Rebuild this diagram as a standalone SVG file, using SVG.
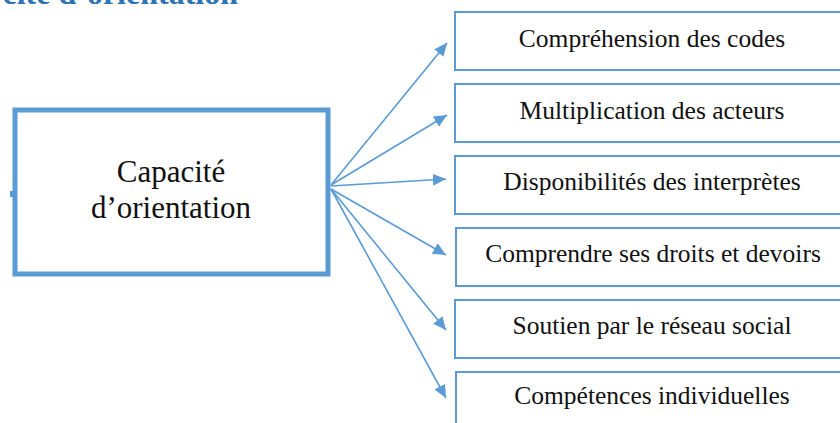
<svg xmlns="http://www.w3.org/2000/svg" width="840" height="423" viewBox="0 0 840 423">
  <style>
    .main { fill: #ffffff; stroke: #5B9BD5; stroke-width: 5; }
    .box { fill: #ffffff; stroke: #5B9BD5; stroke-width: 2; }
    .lbl { font-family: "Liberation Serif", "Times New Roman", serif; font-size: 25.5px; fill: #111111; text-anchor: middle; }
    .mainlbl { font-family: "Liberation Serif", "Times New Roman", serif; font-size: 31px; fill: #111111; text-anchor: middle; }
    .head { font-family: "Liberation Serif", "Times New Roman", serif; font-size: 32px; font-weight: bold; fill: #2E74B5; text-anchor: end; }
    .conn { stroke: #5B9BD5; stroke-width: 1.6; fill: none; marker-end: url(#arrow); }
  </style>
  <defs>
    <marker id="arrow" markerUnits="userSpaceOnUse" markerWidth="14" markerHeight="12" refX="13" refY="6" orient="auto">
      <path d="M0,0 L13,6 L0,12 Z" fill="#5B9BD5"/>
    </marker>
  </defs>

  <text class="head" x="238" y="4">cité d’orientation</text>

  <g id="connectors">
    <line class="conn" x1="331" y1="185" x2="447" y2="43"/>
    <line class="conn" x1="331" y1="185" x2="447" y2="115"/>
    <line class="conn" x1="331" y1="186" x2="446" y2="179"/>
    <line class="conn" x1="331" y1="189" x2="446" y2="255"/>
    <line class="conn" x1="331" y1="189" x2="446" y2="330"/>
    <line class="conn" x1="331" y1="189" x2="446" y2="398"/>
  </g>

  <g id="node-main">
    <rect class="main" x="15" y="110" width="313" height="164"/>
    <rect x="10" y="191" width="3" height="6" fill="#5B9BD5"/>
    <text class="mainlbl" x="171" y="182">Capacité</text>
    <text class="mainlbl" x="171" y="218">d’orientation</text>
  </g>

  <g id="node-1">
    <rect class="box" x="455" y="12" width="400" height="58"/>
    <text class="lbl" x="652" y="47">Compréhension des codes</text>
  </g>
  <g id="node-2">
    <rect class="box" x="455" y="84" width="400" height="58"/>
    <text class="lbl" x="652" y="119">Multiplication des acteurs</text>
  </g>
  <g id="node-3">
    <rect class="box" x="455" y="156" width="400" height="58"/>
    <text class="lbl" x="652" y="190">Disponibilités des interprètes</text>
  </g>
  <g id="node-4">
    <rect class="box" x="456" y="228" width="400" height="58"/>
    <text class="lbl" x="653" y="262">Comprendre ses droits et devoirs</text>
  </g>
  <g id="node-5">
    <rect class="box" x="455" y="300" width="400" height="58"/>
    <text class="lbl" x="652" y="334">Soutien par le réseau social</text>
  </g>
  <g id="node-6">
    <rect class="box" x="456" y="372" width="400" height="58"/>
    <text class="lbl" x="652" y="404">Compétences individuelles</text>
  </g>
</svg>
